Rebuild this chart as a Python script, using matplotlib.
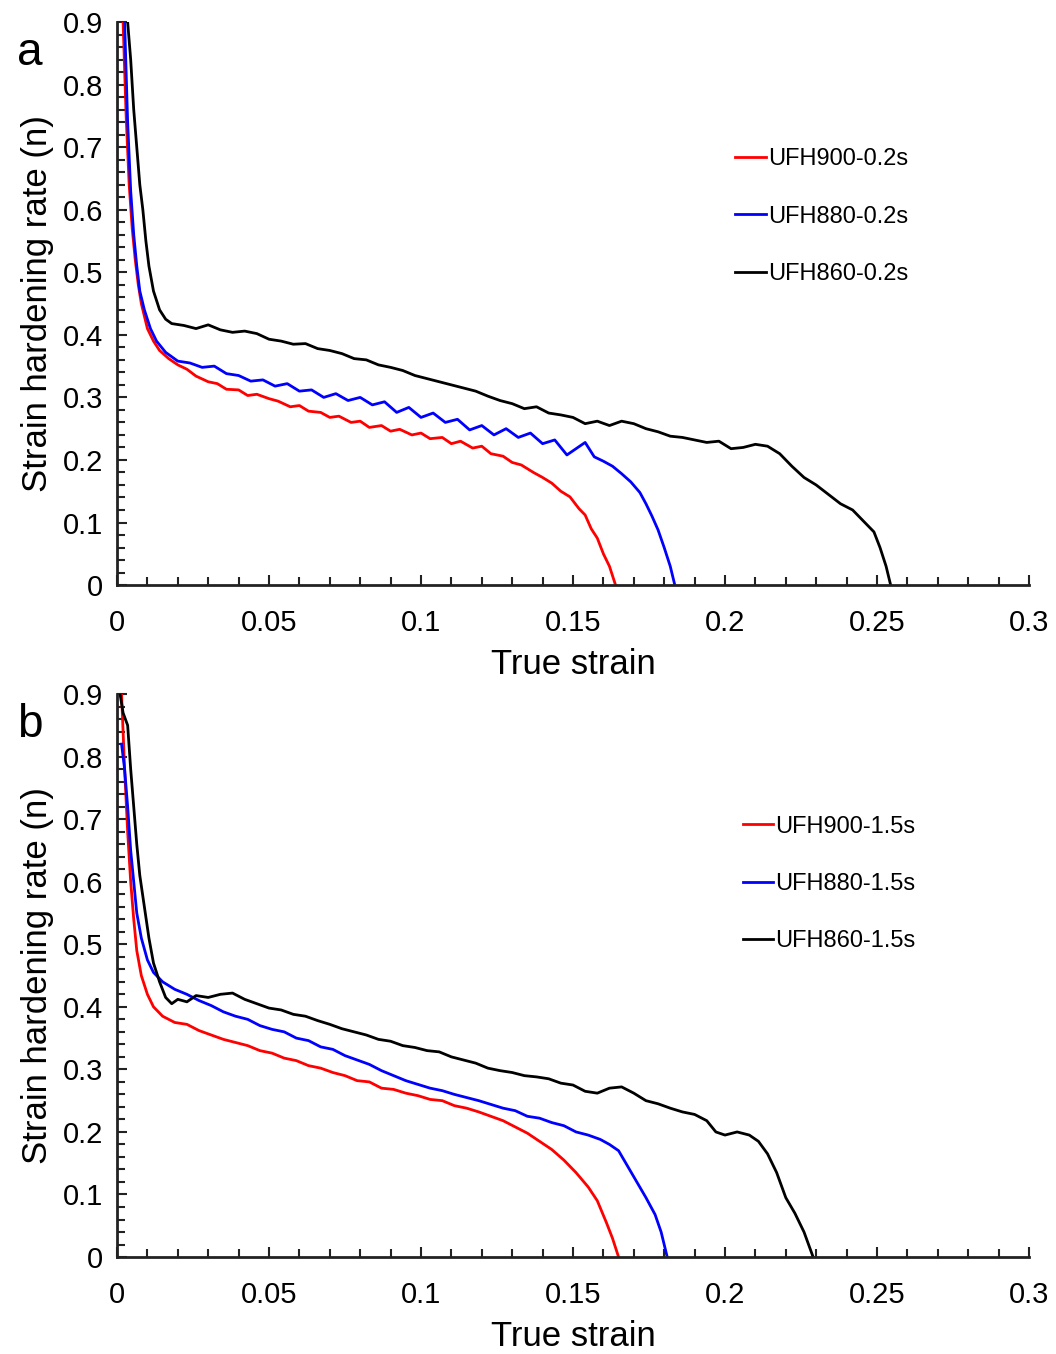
import matplotlib
matplotlib.use("Agg")
import matplotlib.pyplot as plt
from matplotlib.ticker import MultipleLocator, FuncFormatter

plt.rcParams['font.family'] = ['Liberation Sans', 'DejaVu Sans']

# ---- panel a (0.2 s) ----
a_red_x = [0.0020, 0.0030, 0.0040, 0.0050, 0.0060, 0.0070, 0.0080, 0.0090, 0.0100, 0.0120,
           0.0140, 0.0170, 0.0200, 0.0230, 0.0260, 0.0300, 0.0330, 0.0360, 0.0400, 0.0430,
           0.0460, 0.0500, 0.0530, 0.0570, 0.0600, 0.0630, 0.0670, 0.0700, 0.0730, 0.0770,
           0.0800, 0.0830, 0.0870, 0.0900, 0.0930, 0.0970, 0.1000, 0.1030, 0.1070, 0.1100,
           0.1130, 0.1170, 0.1200, 0.1230, 0.1270, 0.1300, 0.1330, 0.1370, 0.1400, 0.1430,
           0.1460, 0.1490, 0.1520, 0.1540, 0.1560, 0.1580, 0.1600, 0.1620, 0.1640]
a_red_y = [0.90, 0.75, 0.64, 0.57, 0.52, 0.48, 0.45, 0.43, 0.41, 0.39,
           0.375, 0.362, 0.352, 0.345, 0.334, 0.325, 0.322, 0.313, 0.312, 0.303,
           0.305, 0.298, 0.294, 0.285, 0.287, 0.278, 0.276, 0.268, 0.270, 0.260,
           0.262, 0.252, 0.255, 0.246, 0.249, 0.240, 0.243, 0.234, 0.236, 0.226,
           0.230, 0.219, 0.222, 0.210, 0.206, 0.196, 0.192, 0.180, 0.172, 0.163,
           0.150, 0.141, 0.122, 0.112, 0.090, 0.075, 0.050, 0.030, 0.000]

a_blue_x = [0.0025, 0.0035, 0.0045, 0.0055, 0.0065, 0.0075, 0.0090, 0.0110, 0.0130, 0.0160,
            0.0200, 0.0240, 0.0280, 0.0320, 0.0360, 0.0400, 0.0440, 0.0480, 0.0520, 0.0560,
            0.0600, 0.0640, 0.0680, 0.0720, 0.0760, 0.0800, 0.0840, 0.0880, 0.0920, 0.0960,
            0.1000, 0.1040, 0.1080, 0.1120, 0.1160, 0.1200, 0.1240, 0.1280, 0.1320, 0.1360,
            0.1400, 0.1440, 0.1480, 0.1510, 0.1540, 0.1570, 0.1600, 0.1630, 0.1660, 0.1690,
            0.1720, 0.1740, 0.1760, 0.1780, 0.1800, 0.1820, 0.1835]
a_blue_y = [0.90, 0.74, 0.63, 0.56, 0.51, 0.47, 0.44, 0.41, 0.39, 0.372,
            0.358, 0.355, 0.348, 0.350, 0.338, 0.335, 0.326, 0.328, 0.318, 0.322,
            0.310, 0.312, 0.300, 0.306, 0.295, 0.300, 0.288, 0.293, 0.276, 0.284,
            0.268, 0.275, 0.260, 0.265, 0.248, 0.255, 0.240, 0.250, 0.236, 0.243,
            0.226, 0.232, 0.208, 0.218, 0.228, 0.205, 0.198, 0.190, 0.178, 0.165,
            0.148, 0.130, 0.110, 0.088, 0.060, 0.030, 0.000]

a_black_x = [0.0035, 0.0045, 0.0055, 0.0065, 0.0075, 0.0085, 0.0095, 0.0105, 0.0120, 0.0140,
             0.0160, 0.0180, 0.0220, 0.0260, 0.0300, 0.0340, 0.0380, 0.0420, 0.0460, 0.0500,
             0.0540, 0.0580, 0.0620, 0.0660, 0.0700, 0.0740, 0.0780, 0.0820, 0.0860, 0.0900,
             0.0940, 0.0980, 0.1020, 0.1060, 0.1100, 0.1140, 0.1180, 0.1220, 0.1260, 0.1300,
             0.1340, 0.1380, 0.1420, 0.1460, 0.1500, 0.1540, 0.1580, 0.1620, 0.1660, 0.1700,
             0.1740, 0.1780, 0.1820, 0.1860, 0.1900, 0.1940, 0.1980, 0.2020, 0.2060, 0.2100,
             0.2140, 0.2180, 0.2220, 0.2260, 0.2300, 0.2340, 0.2380, 0.2420, 0.2460, 0.2490,
             0.2510, 0.2530, 0.2545]
a_black_y = [0.90, 0.84, 0.76, 0.70, 0.64, 0.60, 0.55, 0.51, 0.47, 0.44,
             0.425, 0.418, 0.415, 0.410, 0.416, 0.408, 0.404, 0.406, 0.402, 0.393,
             0.390, 0.385, 0.386, 0.378, 0.375, 0.370, 0.362, 0.360, 0.352, 0.348,
             0.343, 0.335, 0.330, 0.325, 0.320, 0.315, 0.310, 0.302, 0.295, 0.290,
             0.282, 0.285, 0.275, 0.272, 0.268, 0.258, 0.262, 0.255, 0.262, 0.258,
             0.250, 0.245, 0.238, 0.236, 0.232, 0.228, 0.230, 0.218, 0.220, 0.225,
             0.222, 0.210, 0.190, 0.172, 0.160, 0.145, 0.130, 0.120, 0.100, 0.085,
             0.060, 0.030, 0.000]

# ---- panel b (1.5 s) ----
b_red_x = [0.0015, 0.0025, 0.0035, 0.0045, 0.0055, 0.0065, 0.0080, 0.0100, 0.0120, 0.0150,
           0.0190, 0.0230, 0.0270, 0.0310, 0.0350, 0.0390, 0.0430, 0.0470, 0.0510, 0.0550,
           0.0590, 0.0630, 0.0670, 0.0710, 0.0750, 0.0790, 0.0830, 0.0870, 0.0910, 0.0950,
           0.0990, 0.1030, 0.1070, 0.1110, 0.1150, 0.1190, 0.1230, 0.1270, 0.1310, 0.1350,
           0.1390, 0.1430, 0.1470, 0.1510, 0.1550, 0.1580, 0.1610, 0.1630, 0.1650]
b_red_y = [0.90, 0.78, 0.68, 0.60, 0.54, 0.49, 0.45, 0.42, 0.40, 0.385,
           0.375, 0.372, 0.362, 0.355, 0.348, 0.343, 0.338, 0.330, 0.326, 0.318,
           0.314, 0.306, 0.302, 0.295, 0.290, 0.282, 0.280, 0.270, 0.268, 0.262,
           0.258, 0.252, 0.250, 0.242, 0.238, 0.232, 0.225, 0.218, 0.208, 0.198,
           0.185, 0.172, 0.155, 0.135, 0.112, 0.090, 0.055, 0.030, 0.000]

b_blue_x = [0.0015, 0.0025, 0.0035, 0.0045, 0.0055, 0.0065, 0.0080, 0.0100, 0.0120, 0.0150,
            0.0190, 0.0230, 0.0270, 0.0310, 0.0350, 0.0390, 0.0430, 0.0470, 0.0510, 0.0550,
            0.0590, 0.0630, 0.0670, 0.0710, 0.0750, 0.0790, 0.0830, 0.0870, 0.0910, 0.0950,
            0.0990, 0.1030, 0.1070, 0.1110, 0.1150, 0.1190, 0.1230, 0.1270, 0.1310, 0.1350,
            0.1390, 0.1430, 0.1470, 0.1510, 0.1550, 0.1590, 0.1620, 0.1650, 0.1680, 0.1710,
            0.1740, 0.1770, 0.1790, 0.1810]
b_blue_y = [0.82, 0.78, 0.72, 0.65, 0.60, 0.55, 0.51, 0.475, 0.455, 0.440,
            0.428, 0.420, 0.410, 0.402, 0.392, 0.385, 0.380, 0.370, 0.364, 0.360,
            0.350, 0.346, 0.336, 0.332, 0.322, 0.315, 0.308, 0.298, 0.290, 0.282,
            0.276, 0.270, 0.266, 0.260, 0.255, 0.250, 0.244, 0.238, 0.234, 0.225,
            0.222, 0.215, 0.210, 0.200, 0.195, 0.188, 0.180, 0.170, 0.145, 0.120,
            0.095, 0.068, 0.040, 0.000]

b_black_x = [0.0010, 0.0020, 0.0035, 0.0045, 0.0055, 0.0065, 0.0075, 0.0090, 0.0105, 0.0120,
             0.0140, 0.0160, 0.0180, 0.0200, 0.0230, 0.0260, 0.0300, 0.0340, 0.0380, 0.0420,
             0.0460, 0.0500, 0.0540, 0.0580, 0.0620, 0.0660, 0.0700, 0.0740, 0.0780, 0.0820,
             0.0860, 0.0900, 0.0940, 0.0980, 0.1020, 0.1060, 0.1100, 0.1140, 0.1180, 0.1220,
             0.1260, 0.1300, 0.1340, 0.1380, 0.1420, 0.1460, 0.1500, 0.1540, 0.1580, 0.1620,
             0.1660, 0.1700, 0.1740, 0.1780, 0.1820, 0.1860, 0.1900, 0.1940, 0.1970, 0.2000,
             0.2040, 0.2080, 0.2110, 0.2140, 0.2170, 0.2200, 0.2230, 0.2260, 0.2290]
b_black_y = [0.90, 0.87, 0.85, 0.78, 0.72, 0.66, 0.61, 0.56, 0.51, 0.47,
             0.44, 0.415, 0.405, 0.412, 0.408, 0.418, 0.415, 0.420, 0.422, 0.412,
             0.405, 0.398, 0.395, 0.388, 0.385, 0.378, 0.372, 0.365, 0.360, 0.355,
             0.348, 0.345, 0.338, 0.335, 0.330, 0.328, 0.320, 0.315, 0.310, 0.302,
             0.298, 0.295, 0.290, 0.288, 0.285, 0.278, 0.275, 0.265, 0.262, 0.270,
             0.272, 0.262, 0.250, 0.245, 0.238, 0.232, 0.228, 0.218, 0.200, 0.195,
             0.200, 0.195, 0.185, 0.165, 0.135, 0.095, 0.070, 0.040, 0.000]

labels_a = ['UFH900-0.2s', 'UFH880-0.2s', 'UFH860-0.2s']
labels_b = ['UFH900-1.5s', 'UFH880-1.5s', 'UFH860-1.5s']
colors = ['#ff0000', '#0000ff', '#000000']

fig = plt.figure(figsize=(10.56, 13.54), dpi=100)
ax_a = fig.add_axes([0.1108, 0.5679, 0.8636, 0.4158])
ax_b = fig.add_axes([0.1108, 0.0716, 0.8636, 0.4158])

panels = [
    (ax_a, [(a_red_x, a_red_y), (a_blue_x, a_blue_y), (a_black_x, a_black_y)], labels_a, 'a', (0.665, 0.797)),
    (ax_b, [(b_red_x, b_red_y), (b_blue_x, b_blue_y), (b_black_x, b_black_y)], labels_b, 'b', (0.673, 0.805)),
]

for ax, series, labels, letter, legpos in panels:
    for (xs, ys), c, lab in zip(series, colors, labels):
        ax.plot(xs, ys, color=c, lw=2.0, label=lab)
    ax.set_xlim(0, 0.3)
    ax.set_ylim(0, 0.9)
    for s in ['top', 'right']:
        ax.spines[s].set_visible(False)
    for s in ['left', 'bottom']:
        ax.spines[s].set_linewidth(2)
        ax.spines[s].set_color('#222222')
    ax.xaxis.set_major_locator(MultipleLocator(0.05))
    ax.xaxis.set_minor_locator(MultipleLocator(0.01))
    ax.yaxis.set_major_locator(MultipleLocator(0.1))
    ax.yaxis.set_minor_locator(MultipleLocator(0.02))
    fmt = FuncFormatter(lambda v, p: '%g' % round(v, 3))
    ax.xaxis.set_major_formatter(fmt)
    ax.yaxis.set_major_formatter(fmt)
    ax.tick_params(which='both', direction='in', color='#222222', width=1.5)
    ax.tick_params(which='major', length=7)
    ax.tick_params(which='minor', length=6)
    ax.tick_params(axis='x', which='major', labelsize=21, pad=17)
    ax.tick_params(axis='y', which='major', labelsize=21, pad=10)
    ax.set_xlabel('True strain', fontsize=25, labelpad=8)
    ax.set_ylabel('Strain hardening rate (n)', fontsize=25, labelpad=6)
    ax.text(-0.11, 0.945, letter, transform=ax.transAxes, fontsize=33,
            ha='left', va='center')
    ax.legend(loc='upper left', bbox_to_anchor=legpos, frameon=False,
              fontsize=17, handlelength=1.3, handletextpad=0.1,
              labelspacing=1.5, borderpad=0)

fig.savefig('out.png', dpi=100)
